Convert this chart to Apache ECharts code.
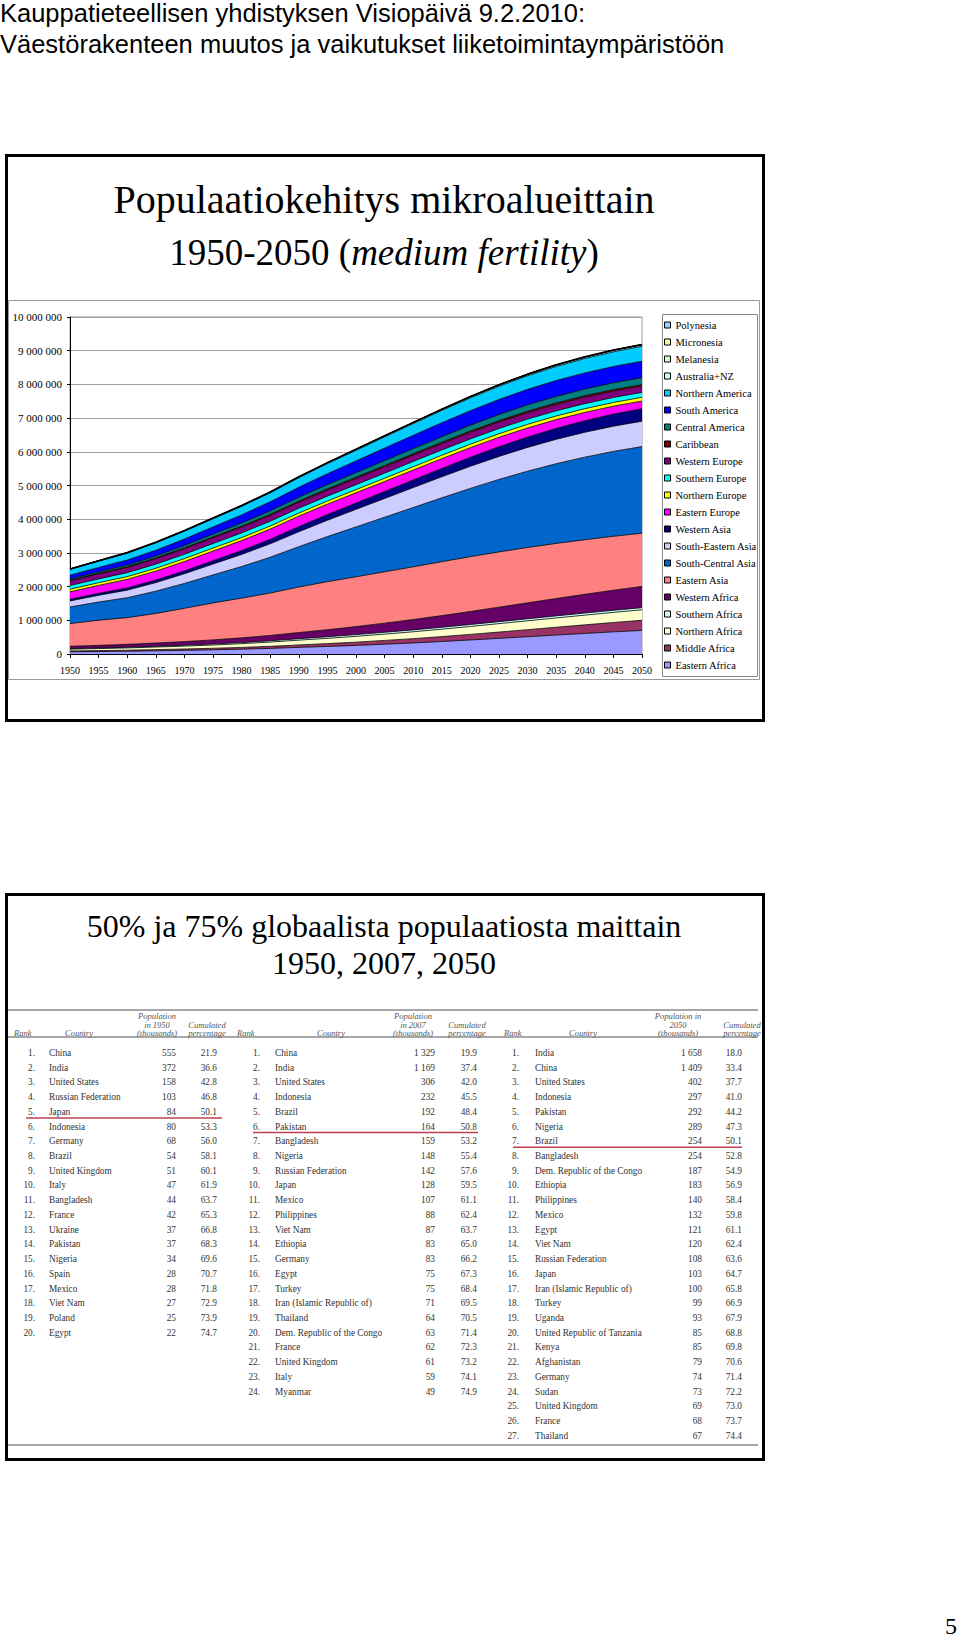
<!DOCTYPE html>
<html><head><meta charset="utf-8">
<script src="https://cdn.jsdelivr.net/npm/echarts@6/dist/echarts.min.js"></script>
<style>html,body{margin:0;padding:0;background:#fff}#c{width:960px;height:1645px}</style>
</head><body><div id="c"></div>
<script>
// ---------- Chart data (thousands) ----------
const years = ['1950','1955','1960','1965','1970','1975','1980','1985','1990','1995','2000','2005','2010','2015','2020','2025','2030','2035','2040','2045','2050'];
const yTicks = [0,1000000,2000000,3000000,4000000,5000000,6000000,7000000,8000000,9000000,10000000];

const easternAfrica   = [65000,73000,82000,94000,108000,124000,143000,166000,197000,224000,255000,291000,327000,370000,416000,464000,513000,562000,610000,657000,700000];
const middleAfrica    = [26000,28000,32000,36000,40000,46000,53000,62000,72000,84000,97000,112000,128000,146000,166000,187000,209000,232000,255000,278000,300000];
const northernAfrica  = [53000,60000,67000,76000,86000,97000,111000,126000,142000,157000,172000,187000,204000,220000,235000,250000,263000,276000,288000,300000,312000];
const southernAfrica  = [16000,18000,20000,23000,26000,29000,33000,37000,42000,47000,51000,54000,56000,57000,58000,59000,60000,61000,62000,62000,63000];
const westernAfrica   = [70000,77000,86000,96000,108000,122000,139000,160000,183000,209000,238000,271000,307000,346000,387000,430000,473000,515000,556000,595000,630000];
const easternAsia     = [672000,746000,792000,878000,987000,1097000,1178000,1258000,1351000,1424000,1478000,1524000,1564000,1600000,1627000,1640000,1642000,1635000,1620000,1600000,1580000];
const southCentralAsia= [494000,540000,591000,661000,739000,831000,939000,1061000,1198000,1339000,1480000,1619000,1760000,1895000,2025000,2150000,2265000,2365000,2450000,2520000,2570000];
const southEasternAsia= [178000,200000,225000,254000,287000,322000,359000,401000,443000,484000,521000,557000,592000,625000,656000,683000,706000,724000,738000,748000,753000];
const westernAsia     = [51000,58000,66000,76000,87000,100000,115000,133000,152000,170000,188000,208000,228000,249000,270000,290000,309000,327000,344000,359000,372000];
const easternEurope   = [220000,236000,253000,265000,276000,287000,295000,303000,311000,309000,304000,297000,292000,288000,283000,277000,268000,258000,246000,235000,225000];
const northernEurope  = [78000,80000,82000,85000,87000,89000,90000,91000,92000,93000,94000,96000,99000,102000,104000,106000,108000,109000,110000,111000,112000];
const southernEurope  = [109000,113000,118000,122000,127000,133000,138000,141000,143000,144000,146000,151000,155000,156000,156000,155000,154000,152000,150000,148000,146000];
const westernEurope   = [141000,147000,155000,163000,169000,172000,173000,174000,178000,182000,184000,187000,189000,190000,191000,191000,191000,190000,189000,187000,185000];
const caribbean       = [17000,19000,21000,23000,25000,27000,29000,31000,34000,36000,38000,40000,41000,42000,43000,44000,45000,45000,46000,46000,46000];
const centralAmerica  = [37000,43000,50000,58000,68000,79000,91000,102000,113000,125000,135000,144000,153000,163000,172000,180000,187000,193000,198000,202000,205000];
const southAmerica    = [113000,130000,148000,168000,191000,216000,242000,270000,297000,322000,348000,372000,393000,413000,431000,447000,460000,471000,479000,484000,488000];
const northernAmerica = [172000,187000,204000,219000,231000,242000,254000,267000,283000,299000,316000,332000,348000,364000,379000,393000,405000,417000,427000,436000,445000];
const australiaNZ     = [10100,11300,12600,13800,15400,16600,17600,18800,20300,21600,22900,24300,25900,27500,29000,30400,31700,32900,33900,34800,35600];
const melanesia       = [2400,2700,3000,3400,3900,4500,5100,5800,6600,7500,8400,9300,10200,11100,12000,12800,13600,14300,15000,15600,16100];
const micronesia      = [160,190,220,260,290,320,360,400,440,490,520,550,580,620,660,700,730,760,790,810,830];
const polynesia       = [250,290,330,380,420,460,480,520,560,590,610,640,670,700,720,740,760,770,780,790,800];

const regionNames = ['Eastern Africa','Middle Africa','Northern Africa','Southern Africa','Western Africa','Eastern Asia','South-Central Asia','South-Eastern Asia','Western Asia','Eastern Europe','Northern Europe','Southern Europe','Western Europe','Caribbean','Central America','South America','Northern America','Australia+NZ','Melanesia','Micronesia','Polynesia'];
const regionData = [easternAfrica,middleAfrica,northernAfrica,southernAfrica,westernAfrica,easternAsia,southCentralAsia,southEasternAsia,westernAsia,easternEurope,northernEurope,southernEurope,westernEurope,caribbean,centralAmerica,southAmerica,northernAmerica,australiaNZ,melanesia,micronesia,polynesia];

// ---------- Table data ----------
const countries1950 = ['China','India','United States','Russian Federation','Japan','Indonesia','Germany','Brazil','United Kingdom','Italy','Bangladesh','France','Ukraine','Pakistan','Nigeria','Spain','Mexico','Viet Nam','Poland','Egypt'];
const pop1950 = [555,372,158,103,84,80,68,54,51,47,44,42,37,37,34,28,28,27,25,22];
const cum1950 = ['21.9','36.6','42.8','46.8','50.1','53.3','56.0','58.1','60.1','61.9','63.7','65.3','66.8','68.3','69.6','70.7','71.8','72.9','73.9','74.7'];

const countries2007 = ['China','India','United States','Indonesia','Brazil','Pakistan','Bangladesh','Nigeria','Russian Federation','Japan','Mexico','Philippines','Viet Nam','Ethiopia','Germany','Egypt','Turkey','Iran (Islamic Republic of)','Thailand','Dem. Republic of the Congo','France','United Kingdom','Italy','Myanmar'];
const pop2007 = [1329,1169,306,232,192,164,159,148,142,128,107,88,87,83,83,75,75,71,64,63,62,61,59,49];
const cum2007 = ['19.9','37.4','42.0','45.5','48.4','50.8','53.2','55.4','57.6','59.5','61.1','62.4','63.7','65.0','66.2','67.3','68.4','69.5','70.5','71.4','72.3','73.2','74.1','74.9'];

const countries2050 = ['India','China','United States','Indonesia','Pakistan','Nigeria','Brazil','Bangladesh','Dem. Republic of the Congo','Ethiopia','Philippines','Mexico','Egypt','Viet Nam','Russian Federation','Japan','Iran (Islamic Republic of)','Turkey','Uganda','United Republic of Tanzania','Kenya','Afghanistan','Germany','Sudan','United Kingdom','France','Thailand'];
const pop2050 = [1658,1409,402,297,292,289,254,254,187,183,140,132,121,120,108,103,100,99,93,85,85,79,74,73,69,68,67];
const cum2050 = ['18.0','33.4','37.7','41.0','44.2','47.3','50.1','52.8','54.9','56.9','58.4','59.8','61.1','62.4','63.6','64.7','65.8','66.9','67.9','68.8','69.8','70.6','71.4','72.2','73.0','73.7','74.4'];
const fiftyPctRank = [5, 6, 7];

const headerLabels = [
  ['Rank','Country','Population\nin 1950\n(thousands)','Cumulated\npercentage'],
  ['Rank','Country','Population\nin 2007\n(thousands)','Cumulated\npercentage'],
  ['Rank','Country','Population in\n2050\n(thousands)','Cumulated\npercentage']
];

// ---------- Styles / layout ----------
const regionColors = ['#9999FF','#993366','#FFFFCC','#CCFFFF','#660066','#FF8080','#0066CC','#CCCCFF','#000080','#FF00FF','#FFFF00','#00FFFF','#800080','#800000','#008080','#0000FF','#00CCFF','#CCFFFF','#CCFFCC','#FFFF99','#99CCFF'];
const SERIF = '"Liberation Serif", "Times New Roman", serif';
const SANS = '"Liberation Sans", Arial, sans-serif';

const fmtSpace = v => String(v).replace(/\B(?=(\d{3})+(?!\d))/g, ' ');

const g = [];
function txt(x, y, text, font, fill, align, valign, extra) {
  g.push(Object.assign({type:'text', x, y, silent:true, style:Object.assign({text, font, fill, textAlign:align||'left', textVerticalAlign:valign||'middle'}, extra||{})}));
}
function rect(x, y, w, h, stroke, lw) {
  g.push({type:'rect', silent:true, shape:{x, y, width:w, height:h}, style:{fill:'none', stroke, lineWidth:lw}});
}
function line(x1, y1, x2, y2, stroke, lw) {
  g.push({type:'line', silent:true, shape:{x1, y1, x2, y2}, style:{stroke, lineWidth:lw}});
}

// page header
txt(0, 13, 'Kauppatieteellisen yhdistyksen Visiopäivä 9.2.2010:', '25.5px ' + SANS, '#000');
txt(0, 44, 'Väestörakenteen muutos ja vaikutukset liiketoimintaympäristöön', '25.5px ' + SANS, '#000');

// slide 1
rect(6.5, 155.5, 757, 565, '#000', 3);
rect(8.5, 300.5, 751, 379, '#999', 1);
rect(662.5, 314.5, 95, 362, '#888', 1);
txt(384, 199, 'Populaatiokehitys mikroalueittain', '40px ' + SERIF, '#000', 'center');
g.push({type:'text', x:384, y:252, silent:true, style:{text:'1950-2050 ({i|medium fertility})', font:'37px ' + SERIF, fill:'#000', textAlign:'center', textVerticalAlign:'middle', rich:{i:{fontStyle:'italic', fontSize:37, fontFamily:'Liberation Serif', fill:'#000'}}}});

// slide 2
rect(6.5, 894.5, 757, 565, '#000', 3);
txt(384, 926, '50% ja 75% globaalista populaatiosta maittain', '32px ' + SERIF, '#000', 'center');
txt(384, 963, '1950, 2007, 2050', '32px ' + SERIF, '#000', 'center');

// table
const tableTop = 1010, tableHeadBottom = 1037, tableBottom = 1445, tableL = 8, tableR = 758;
line(tableL, tableTop, tableR, tableTop, '#8a8a8a', 1.5);
line(tableL, tableHeadBottom, tableR, tableHeadBottom, '#8a8a8a', 1.5);
line(tableL, tableBottom, tableR, tableBottom, '#8a8a8a', 1.5);

const headerX = [
  [[14,'left'],[79,'center'],[157,'center'],[207,'center']],
  [[237,'left'],[331,'center'],[413,'center'],[467,'center']],
  [[504,'left'],[583,'center'],[678,'center'],[742,'center']]
];
const colX = [
  {rank:35, country:49, pop:176, cum:217, red:[26,222]},
  {rank:260, country:275, pop:435, cum:477, red:[253,478]},
  {rank:519, country:535, pop:702, cum:742, red:[513,742]}
];
const tableGroups = [
  {countries:countries1950, pop:pop1950, cum:cum1950},
  {countries:countries2007, pop:pop2007, cum:cum2007},
  {countries:countries2050, pop:pop2050, cum:cum2050}
];
const row0 = 1053, rowH = 14.72;
const hFont = 'italic 8.5px ' + SERIF, rFont = '9.3px ' + SERIF;
tableGroups.forEach((grp, gi) => {
  headerLabels[gi].forEach((lab, li) => {
    const [hx, ha] = headerX[gi][li];
    txt(hx, 1037.5, lab, hFont, '#555', ha, 'bottom', {lineHeight:8.5});
  });
  const cx = colX[gi];
  grp.countries.forEach((c, i) => {
    const y = row0 + i * rowH;
    txt(cx.rank, y, (i + 1) + '.', rFont, '#333', 'right');
    txt(cx.country, y, c, rFont, '#333', 'left');
    txt(cx.pop, y, fmtSpace(grp.pop[i]), rFont, '#333', 'right');
    txt(cx.cum, y, grp.cum[i], rFont, '#333', 'right');
  });
  const ry = row0 + (fiftyPctRank[gi] - 1) * rowH + 6;
  line(cx.red[0], ry, cx.red[1], ry, '#c0404f', 1.5);
});

// page number
txt(957, 1626, '5', '24px ' + SERIF, '#000', 'right');

// ---------- ECharts ----------
const chart = echarts.init(document.getElementById('c'), null, {renderer:'svg', width:960, height:1645});
const series = regionNames.map((name, i) => ({
  name, type:'line', stack:'total', data:regionData[i], symbol:'none', showSymbol:false,
  color:regionColors[i], itemStyle:{color:regionColors[i]},
  lineStyle:{color:'#000', width:i === regionNames.length - 1 ? 1.6 : 0.8},
  areaStyle:{color:regionColors[i], opacity:1},
  emphasis:{disabled:true}, silent:true
}));
chart.setOption({
  animation:false,
  backgroundColor:'#fff',
  grid:{left:70, right:318, top:317, bottom:991, show:true, borderColor:'#999', borderWidth:1, backgroundColor:'transparent'},
  xAxis:{type:'category', data:years, boundaryGap:false,
    axisLine:{lineStyle:{color:'#000', width:1}},
    axisTick:{show:true, length:4, lineStyle:{color:'#000'}},
    axisLabel:{fontFamily:'Liberation Serif', fontSize:10, color:'#000', margin:11, interval:0},
    splitLine:{show:false}},
  yAxis:{type:'value', min:yTicks[0], max:yTicks[yTicks.length-1], interval:yTicks[1]-yTicks[0],
    axisLine:{show:true, lineStyle:{color:'#000', width:1}},
    axisTick:{show:true, length:3, lineStyle:{color:'#000'}},
    axisLabel:{fontFamily:'Liberation Serif', fontSize:11, color:'#000', margin:8, formatter:fmtSpace},
    splitLine:{show:true, lineStyle:{color:'#a0a0a0', width:1}}},
  legend:{orient:'vertical', left:664, top:319, itemWidth:6, itemHeight:6, itemGap:5, padding:0,
    icon:'rect', selectedMode:false,
    textStyle:{fontFamily:'Liberation Serif', fontSize:10.5, color:'#000', lineHeight:12},
    data:regionNames.slice().reverse().map((n) => ({name:n, itemStyle:{color:regionColors[regionNames.indexOf(n)], borderColor:'#000', borderWidth:1}}))},
  series,
  graphic:{elements:g}
});
</script>
</body></html>
